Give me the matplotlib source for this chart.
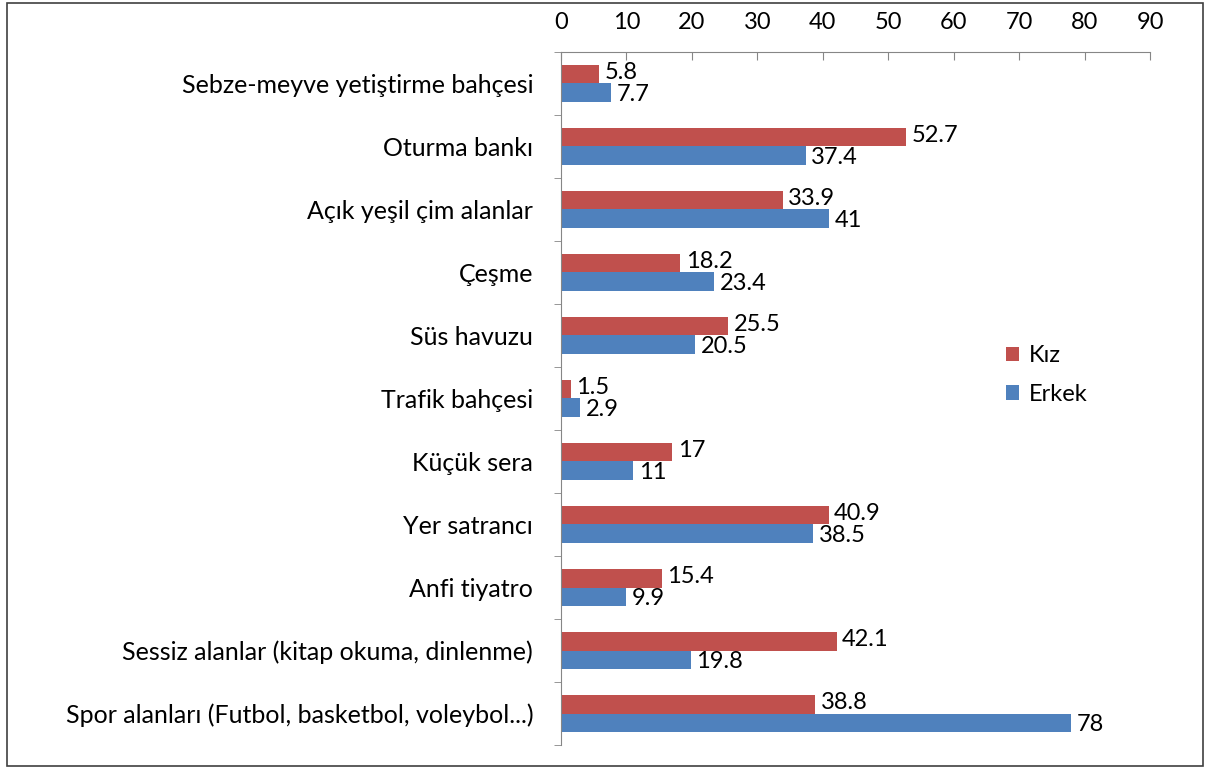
import numpy as np
import matplotlib.pyplot as plt
from matplotlib.patches import Rectangle

kategoriler = ["Sebze-meyve yetiştirme bahçesi", "Oturma bankı", "Açık yeşil çim alanlar",
               "Çeşme", "Süs havuzu", "Trafik bahçesi", "Küçük sera", "Yer satrancı",
               "Anfi tiyatro", "Sessiz alanlar (kitap okuma, dinlenme)",
               "Spor alanları (Futbol, basketbol, voleybol...)"]
kiz = [5.8, 52.7, 33.9, 18.2, 25.5, 1.5, 17, 40.9, 15.4, 42.1, 38.8]
erkek = [7.7, 37.4, 41, 23.4, 20.5, 2.9, 11, 38.5, 9.9, 19.8, 78]
xticks = list(range(0, 100, 10))

plt.rcParams['font.family'] = ['Lato', 'DejaVu Sans']
fs = 17

fig = plt.figure(figsize=(12.08, 7.69), dpi=100)
ax = fig.add_axes([0.4644, 0.0312, 0.952 - 0.4644, 0.9324 - 0.0312])

red = "#c0504d"
blue = "#4f81bd"
h = 0.3
y = np.arange(len(kategoriler))
ax.barh(y - h / 2, kiz, height=h, color=red, label="Kız")
ax.barh(y + h / 2, erkek, height=h, color=blue, label="Erkek")

for i in range(len(kategoriler)):
    ax.annotate(f"{kiz[i]:g}", (kiz[i], y[i] - h / 2), xytext=(4, 1), textcoords="offset points",
                va="center", ha="left", fontsize=fs)
    ax.annotate(f"{erkek[i]:g}", (erkek[i], y[i] + h / 2), xytext=(4, -1), textcoords="offset points",
                va="center", ha="left", fontsize=fs)

ax.set_xlim(0, 90)
ax.set_ylim(len(kategoriler) - 0.5, -0.5)
ax.xaxis.tick_top()
ax.set_xticks(xticks)
ax.tick_params(axis="x", direction="in", length=6, color="#868686", labelsize=fs, pad=14)
ax.set_yticks(y)
ax.set_yticklabels(kategoriler, fontsize=18)
ax.tick_params(axis="y", which="major", length=0, pad=20)
ax.set_yticks(np.arange(-0.5, len(kategoriler)), minor=True)
ax.tick_params(axis="y", which="minor", length=5, color="#868686", direction="out")

for s in ["right", "bottom"]:
    ax.spines[s].set_visible(False)
for s in ["left", "top"]:
    ax.spines[s].set_color("#868686")

ax.legend(loc="center left", bbox_to_anchor=(0.72, 0.534), frameon=False, fontsize=fs,
          handlelength=0.55, handleheight=0.55, handletextpad=0.4, labelspacing=0.75)

fig.patches.append(Rectangle((0.006, 0.004), 0.99, 0.992, transform=fig.transFigure,
                             fill=False, edgecolor="#404040", linewidth=1.2))

fig.savefig("out.png", dpi=100)
